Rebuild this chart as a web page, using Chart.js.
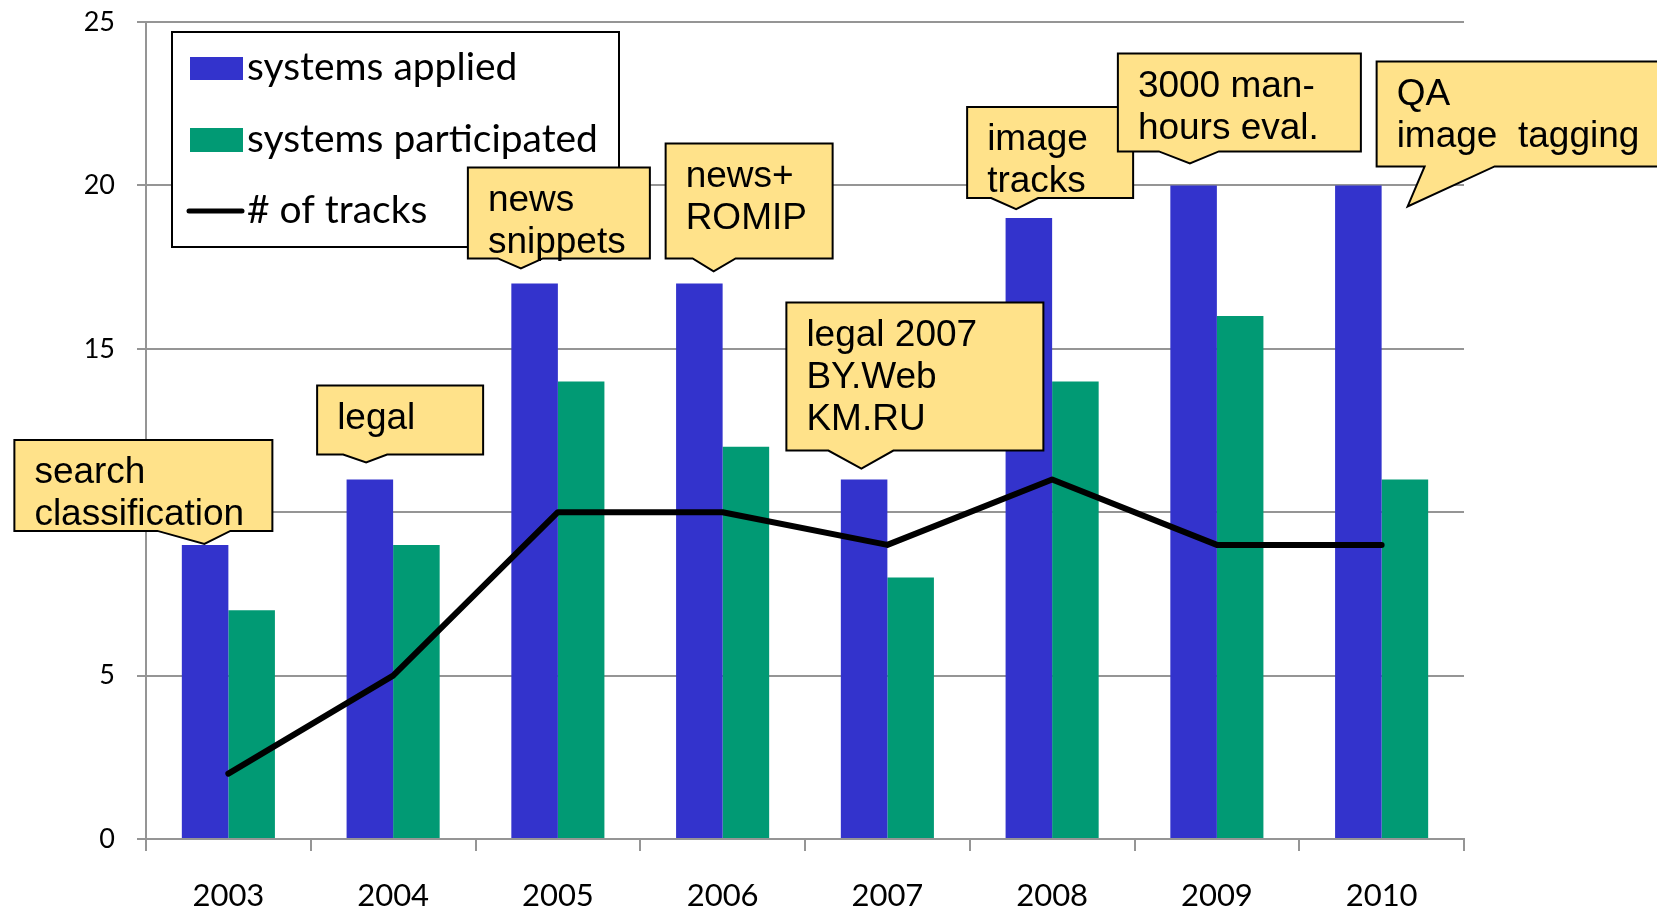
<!DOCTYPE html>
<html><head><meta charset="utf-8">
<script src="https://cdn.jsdelivr.net/npm/chart.js@4/dist/chart.umd.min.js"></script>
<style>html,body{margin:0;padding:0;background:#fff;}#wrap{width:1657px;height:914px;position:relative;overflow:hidden}</style>
</head><body><div id="wrap"><canvas id="c" width="1657" height="914"></canvas></div>
<script>
// ---- data ----
const years = ['2003','2004','2005','2006','2007','2008','2009','2010'];
const systemsApplied = [9, 11, 17, 17, 11, 19, 20, 20];
const systemsParticipated = [7, 9, 14, 12, 8, 14, 16, 11];
const numTracks = [2, 5, 10, 10, 9, 11, 9, 9];
const yTickValues = [0, 5, 10, 15, 20, 25];
const seriesNames = ['systems applied', 'systems participated', '# of tracks'];
const yearNotes = [
  ['search', 'classification'],
  ['legal'],
  ['news', 'snippets'],
  ['news+', 'ROMIP'],
  ['legal 2007', 'BY.Web', 'KM.RU'],
  ['image', 'tracks'],
  ['3000 man-', 'hours eval.'],
  ['QA', 'image  tagging']
];

// ---- styling / layout (not data) ----
const BLUE = '#3333CC', GREEN = '#019A74', GRID = '#959595', NOTE_FILL = '#FFE28A';
const noteGeom = [
  {dx:-24, dy:-1,  L:-190, T:-104, W:258, H:91,  b0:-47, b1:26},
  {dx:-27, dy:-17, L:-49,  T:-77,  W:166, H:69,  b0:-23, b1:21},
  {dx:-37, dy:-15, L:-53,  T:-101, W:182, H:91,  b0:-23, b1:22},
  {dx:-9,  dy:-12, L:-48,  T:-128, W:167, H:115, b0:-21, b1:22},
  {dx:-26, dy:-11, L:-75,  T:-166, W:257, H:148, b0:-33, b1:32},
  {dx:-36, dy:-9,  L:-49,  T:-102, W:166, H:91,  b0:-25, b1:22},
  {dx:-27, dy:-22, L:-72,  T:-110, W:243, H:98,  b0:-31, b1:29},
  {dx:26,  dy:21,  L:-31,  T:-145, W:290, H:105, b0:17,  b1:87}
];

const overlay = {
  id: 'overlay',
  afterDraw(chart) {
    const ctx = chart.ctx;
    const xs = chart.scales.x, ys = chart.scales.y;
    ctx.save();
    ctx.fillStyle = '#fff';
    ctx.fillRect(172, 32, 447, 215);
    ctx.lineWidth = 2; ctx.strokeStyle = '#000';
    ctx.strokeRect(172, 32, 447, 215);
    ctx.font = '100px Lato';
    const fs = 100 * 351 / ctx.measureText(seriesNames[1]).width;
    ctx.font = fs.toFixed(2) + 'px Lato';
    ctx.textBaseline = 'alphabetic'; ctx.textAlign = 'left';
    ctx.fillStyle = BLUE; ctx.fillRect(190, 57, 53, 23);
    ctx.fillStyle = GREEN; ctx.fillRect(190, 128, 53, 24);
    ctx.strokeStyle = '#000'; ctx.lineWidth = 5; ctx.lineCap = 'round';
    ctx.beginPath(); ctx.moveTo(189, 211); ctx.lineTo(242, 211); ctx.stroke();
    ctx.fillStyle = '#000';
    ctx.fillText(seriesNames[0], 247, 80);
    ctx.fillText(seriesNames[1], 247, 152);
    ctx.fillText(seriesNames[2], 247, 223);
    ctx.font = '37px "Liberation Sans", Arial, sans-serif';
    ctx.textBaseline = 'middle';
    ctx.lineCap = 'butt'; ctx.lineJoin = 'miter';
    yearNotes.forEach((lines, i) => {
      const g = noteGeom[i];
      const tx = xs.getPixelForValue(i) + g.dx;
      const ty = ys.getPixelForValue(systemsApplied[i]) + g.dy;
      const l = tx + g.L, t = ty + g.T, r = l + g.W, b = t + g.H;
      ctx.beginPath();
      ctx.moveTo(l, t); ctx.lineTo(r, t); ctx.lineTo(r, b);
      ctx.lineTo(tx + g.b1, b); ctx.lineTo(tx, ty); ctx.lineTo(tx + g.b0, b);
      ctx.lineTo(l, b); ctx.closePath();
      ctx.fillStyle = NOTE_FILL; ctx.fill();
      ctx.lineWidth = 2; ctx.strokeStyle = '#000'; ctx.stroke();
      ctx.fillStyle = '#000';
      lines.forEach((s, k) => ctx.fillText(s, l + 20, t + 33 + k * 42));
    });
    ctx.restore();
  }
};

const chart = new Chart(document.getElementById('c'), {
  type: 'bar',
  data: {
    labels: years,
    datasets: [
      {type: 'line', label: seriesNames[2], data: numTracks, borderColor: '#000', borderWidth: 6,
       pointRadius: 0, tension: 0, borderCapStyle: 'round', borderJoinStyle: 'round', order: 0, fill: false},
      {label: seriesNames[0], data: systemsApplied, backgroundColor: BLUE, order: 1,
       categoryPercentage: 0.565, barPercentage: 1.0},
      {label: seriesNames[1], data: systemsParticipated, backgroundColor: GREEN, order: 1,
       categoryPercentage: 0.565, barPercentage: 1.0}
    ]
  },
  options: {
    responsive: false, animation: false, devicePixelRatio: 1,
    layout: {padding: {left: 0, right: 193, top: 22, bottom: 0}},
    plugins: {legend: {display: false}, tooltip: {enabled: false}},
    scales: {
      x: {
        afterFit(s) { s.height = 75; s.paddingLeft = 0; s.paddingRight = 0; },
        grid: {offset: true, drawOnChartArea: false, drawTicks: true, tickLength: 12, color: GRID, lineWidth: 2},
        border: {display: true, color: GRID, width: 2},
        ticks: {color: '#000', font: {family: 'Lato', size: 31}, padding: 26, maxRotation: 0}
      },
      y: {
        min: 0, max: 25,
        afterFit(s) { s.width = 146; s.paddingTop = 0; s.paddingBottom = 0; },
        afterBuildTicks(s) { s.ticks = yTickValues.map(v => ({value: v})); },
        grid: {color: GRID, lineWidth: 2, drawTicks: true, tickLength: 9},
        border: {display: true, color: GRID, width: 2},
        ticks: {color: '#000', font: {family: 'Lato', size: 27}, padding: 22}
      }
    }
  },
  plugins: [overlay]
});
</script></body></html>
